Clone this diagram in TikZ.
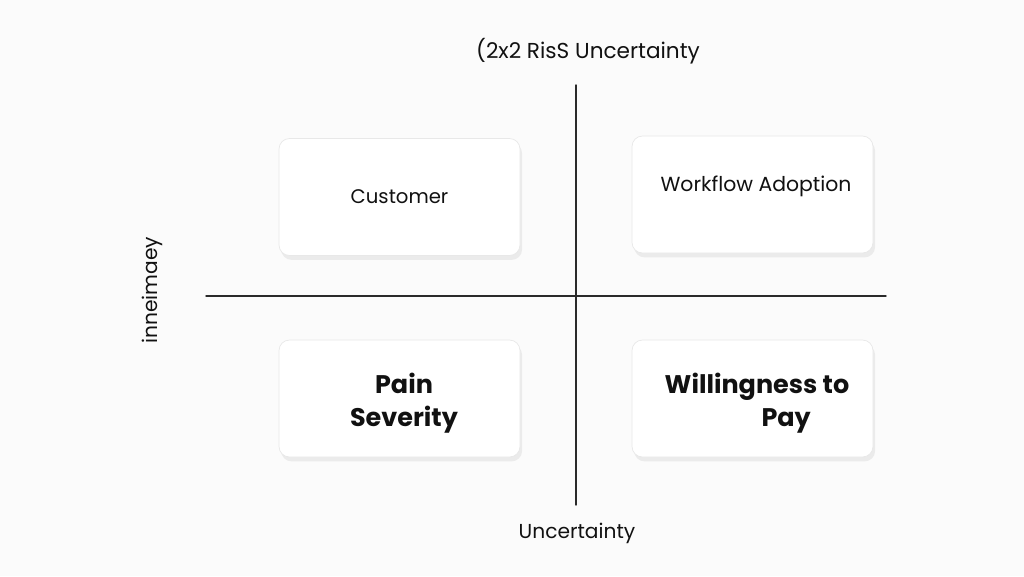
\documentclass[tikz,border=0pt]{standalone}
\usepackage{fontspec}
\setmainfont{Poppins}[Ligatures=NoCommon]
\usepackage{tikz}
\usetikzlibrary{calc,positioning,shadows}
\definecolor{fondo}{HTML}{FBFBFB}
\definecolor{tinta}{HTML}{111111}
\definecolor{borde}{HTML}{E8E8E8}
\definecolor{eje}{HTML}{2A2A2A}

\tikzset{
  quadbox/.style={draw=borde,fill=white,rounded corners=6pt,
    minimum width=241*0.02cm,minimum height=117*0.02cm,
    drop shadow={shadow xshift=1.2pt,shadow yshift=-2.5pt,opacity=0.10,fill=black!60}},
  axislbl/.style={text=tinta,font=\fontsize{11.5}{13}\selectfont}
}

\begin{document}
\begin{tikzpicture}[x=0.02cm,y=-0.02cm,line cap=round]
  \fill[fondo] (0,0) rectangle (1024,576);
  \useasboundingbox (0,0) rectangle (1024,576);
  % ejes
  \coordinate (vtop) at (576,85);
  \coordinate (vbot) at (576,505);
  \coordinate (hleft) at (206,296);
  \coordinate (hright) at (886,296);
  \draw[eje,line width=0.8pt] (vtop) -- (vbot);
  \draw[eje,line width=0.8pt] (hleft) -- (hright);
  % cuadrantes
  \node[quadbox] (cust) at (399.5,197) {};
  \node[text=tinta,font=\fontsize{11.2}{13}\selectfont] (custtxt) at (cust.center) {Customer};
  \node[quadbox] (work) at (752.5,194.5) {};
  \node[text=tinta,font=\fontsize{11.6}{13}\selectfont] (worktxt) at (756,186) {Workflow Adoption};
  \node[quadbox] (pain) at (399.5,398.5) {};
  \node[text=tinta,font=\fontsize{14.5}{19}\selectfont\bfseries,align=center] (paintxt) at (404,403) {Pain\\Severity};
  \node[quadbox] (will) at (752.5,398.5) {};
  \node[text=tinta,font=\fontsize{14.5}{19}\selectfont\bfseries,align=left] (willtxt) at (757,403)
        {Willingness to\\\hspace*{3.8em}Pay};
  % textos de ejes
  \node[axislbl,font=\fontsize{12.3}{14}\selectfont] (titulo) at (588,51) {(2x2 RisS Uncertainty};
  \node[axislbl] (abajo) at (577,533) {Uncertainty};
  \node[axislbl,rotate=90] (izq) at (152,290) {inneimaey};
\end{tikzpicture}
\end{document}
